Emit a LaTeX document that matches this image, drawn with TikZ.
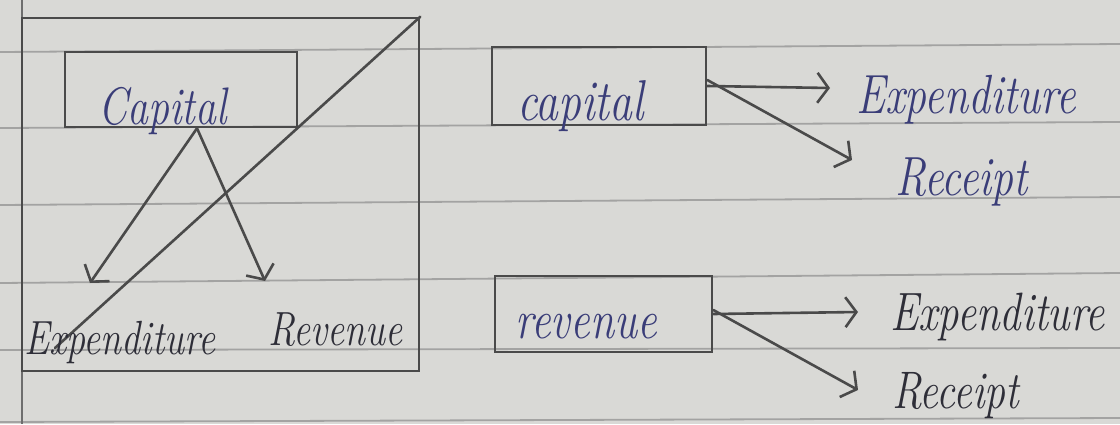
\documentclass[tikz,border=0pt]{standalone}
\usepackage{graphicx}
\usetikzlibrary{arrows.meta}
\definecolor{paper}{HTML}{D9D9D6}
\definecolor{rulec}{HTML}{A3A3A2}
\definecolor{pencil}{HTML}{4A4A4A}
\definecolor{inkblue}{HTML}{3A3D78}
\definecolor{inkdark}{HTML}{2E2E38}
\newcommand{\tallt}[1]{\scalebox{0.95}[1.2]{#1}}
\begin{document}
\begin{tikzpicture}[x=1pt,y=-1pt,
  rulel/.style={draw=rulec, line width=1.8pt},
  boxl/.style={draw=pencil, line width=2.6pt, rectangle, inner sep=0pt},
  pen/.style={draw=pencil, line width=2.6pt, line cap=round},
  arr/.style={pen, -{Straight Barb[length=11pt,width=30pt,line width=2.6pt]}},
  hw/.style={inner sep=0pt, anchor=base west, font=\itshape\fontsize{#1}{#1}\selectfont},
  blue/.style={text=inkblue},
  dark/.style={text=inkdark}]
% paper and rules
\fill[paper] (0,0) rectangle (1120,424);
\useasboundingbox (0,0) rectangle (1120,424);
\draw[rulel] (0,52) -- (1120,44);
\draw[rulel] (0,128) -- (1120,122);
\draw[rulel] (0,205) -- (1120,197);
\draw[rulel] (0,283) -- (1120,273);
\draw[rulel] (0,350) -- (1120,348);
\draw[rulel] (0,422) -- (1120,418);
\draw[draw=pencil!80, line width=2.4pt] (22,0) -- (22,424);

% left diagram
\node[boxl, minimum width=397pt, minimum height=353pt] (bigL) at (220.5,194.5) {};
\node[boxl, minimum width=232pt, minimum height=75pt] (capL) at (181,89.5) {};
\node[hw=44, blue] (capLt) at (98,124) {\tallt{Capital}};
\coordinate (capLo) at ([xshift=16pt]capL.south);
\coordinate (expLtip) at (90,283);
\coordinate (revLtip) at (265,281);
\coordinate (diagEnd) at (55,348);
\draw[pen] (bigL.north east) -- (diagEnd);
\draw[arr] (capLo) -- (expLtip);
\draw[arr] (capLo) -- (revLtip);
\node[hw=40, dark] (expL) at (24,354) {\tallt{Expenditure}};
\node[hw=40, dark] (revL) at (268,345) {\tallt{Revenue}};

% right top
\node[boxl, minimum width=214pt, minimum height=78pt] (capR) at (599,86) {};
\node[hw=48, blue] (capRt) at (517,120) {\tallt{capital}};
\node[hw=46, blue] (expR1) at (856,113) {\tallt{Expenditure}};
\node[hw=46, blue] (recR1) at (895,195) {\tallt{Receipt}};
\coordinate (t1) at (830,88);
\coordinate (t2) at (852,160);
\draw[arr] (capR.east) -- (t1);
\draw[arr] ([yshift=6pt]capR.east) -- (t2);

% right bottom
\node[boxl, minimum width=217pt, minimum height=76pt] (revR) at (603.5,314) {};
\node[hw=46, blue] (revRt) at (515,338) {\tallt{revenue}};
\node[hw=45, dark] (expR2) at (890,330) {\tallt{Expenditure}};
\node[hw=44, dark] (recR2) at (892,408) {\tallt{Receipt}};
\coordinate (t3) at (858,312);
\coordinate (t4) at (858,390);
\draw[arr] (revR.east) -- (t3);
\draw[arr] ([yshift=4pt]revR.east) -- (t4);
\end{tikzpicture}
\end{document}
